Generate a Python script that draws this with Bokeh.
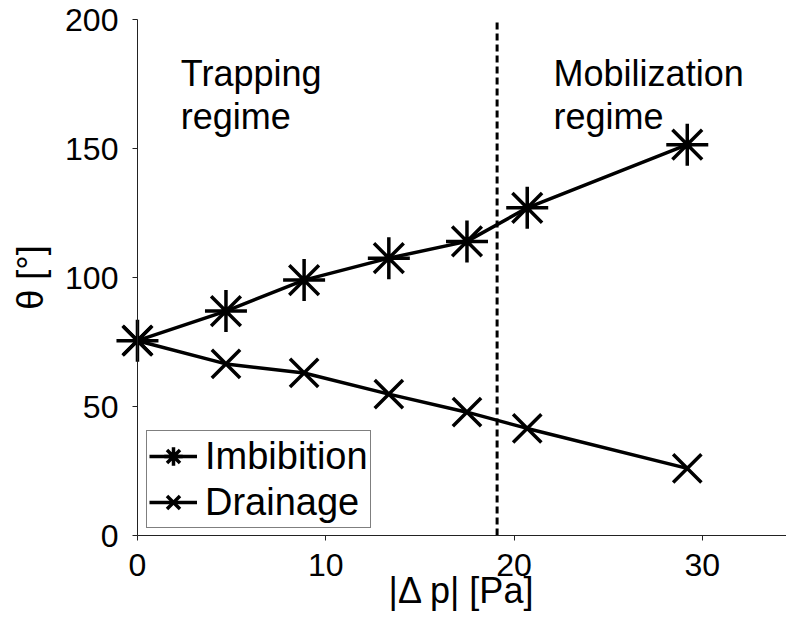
import math
from bokeh.plotting import figure
from bokeh.models import Range1d, Legend, LegendItem, ColumnDataSource, FixedTicker, Label
from bokeh.core.properties import value
from bokeh.embed import file_html
from bokeh.resources import INLINE

# data
dp = [0.0, 4.7, 8.85, 13.35, 17.5, 20.7, 29.2]
imbibition = [75.5, 87.0, 99.0, 107.5, 114.0, 127.0, 151.5]
drainage = [75.5, 66.5, 63.0, 54.8, 47.8, 41.5, 26.0]
regime_boundary = 19.1
x_ticks = [0, 10, 20, 30]
y_ticks = [0, 50, 100, 150, 200]
y_min, y_max = 0, 200
x_min, x_max = 0, 34.47
region_labels = ["Trapping\nregime", "Mobilization\nregime"]
region_x = [2.3, 22.1]
region_y = [187.0, 187.0]
x_title = "|\u0394 p| [Pa]"
y_title = "\u03b8 [\u00b0]"

FONT = "Liberation Sans"

# the frame spans the whole window so that markers at x=0 and the tick labels are not clipped;
# the axes are fixed at the data origin
px_per_x = 565 / 30.0
px_per_y = 516 / 200.0
p = figure(width=786, height=629, output_backend="svg", toolbar_location=None,
           x_range=Range1d(x_min - 137 / px_per_x, x_max),
           y_range=Range1d(y_min - 94 / px_per_y, y_max + 19 / px_per_y),
           min_border_left=0, min_border_right=0, min_border_top=0, min_border_bottom=0)
p.xgrid.visible = False
p.ygrid.visible = False
p.outline_line_color = None
p.background_fill_color = "white"
p.border_fill_color = "white"

for ax in (p.xaxis[0], p.yaxis[0]):
    ax.axis_line_color = "#222222"
    ax.axis_line_width = 1
    ax.major_tick_line_color = "#222222"
    ax.major_tick_out = 5
    ax.major_tick_in = 0
    ax.minor_tick_line_color = None
    ax.major_label_text_font = FONT
    ax.major_label_text_font_size = "32px"
    ax.major_label_text_color = "black"

p.yaxis.fixed_location = x_min
p.xaxis.fixed_location = y_min
p.xaxis.bounds = (x_min, x_max)
p.yaxis.bounds = (y_min, y_max)
p.xaxis.ticker = FixedTicker(ticks=x_ticks)
p.yaxis.ticker = FixedTicker(ticks=y_ticks)
p.xaxis.major_label_standoff = 13
p.yaxis.major_label_standoff = 14

src = ColumnDataSource(dict(x=dp, imb=imbibition, dr=drainage))

p.segment(x0=[regime_boundary], y0=[y_min], x1=[regime_boundary], y1=[y_max],
          line_color="black", line_width=3, line_dash="7 4")

l1 = p.line("x", "imb", source=src, line_color="black", line_width=3.5)
m1 = p.scatter("x", "imb", source=src, marker="asterisk", size=42,
               line_color="black", line_width=3.5)
l2 = p.line("x", "dr", source=src, line_color="black", line_width=3.5)
m2 = p.scatter("x", "dr", source=src, marker="x", size=40,
               line_color="black", line_width=3.5)

tsrc = ColumnDataSource(dict(x=region_x, y=region_y, t=region_labels))
p.text("x", "y", text="t", source=tsrc, text_font=value(FONT), text_font_size="36px",
       text_color="black", text_align="left", text_baseline="top", text_line_height=1.05)

# axis titles
p.add_layout(Label(x=(x_min + x_max) / 2, y=39, y_units="screen", text=x_title,
                   text_font=FONT, text_font_size="36px", text_color="black",
                   text_align="center", text_baseline="middle"))
p.add_layout(Label(x=30, x_units="screen", y=(y_min + y_max) / 2, text=y_title,
                   angle=math.pi / 2, text_font=FONT, text_font_size="36px",
                   text_color="black", text_align="center", text_baseline="middle"))

legend = Legend(items=[LegendItem(label="Imbibition", renderers=[l1, m1]),
                       LegendItem(label="Drainage", renderers=[l2, m2])],
                location=(146, 101))
legend.border_line_color = "black"
legend.border_line_width = 1
legend.background_fill_color = "white"
legend.background_fill_alpha = 1
legend.label_text_font = FONT
legend.label_text_font_size = "38px"
legend.label_text_color = "black"
legend.glyph_width = 48
legend.glyph_height = 46
legend.label_standoff = 8
legend.label_height = 44
legend.spacing = 0
legend.padding = 2
legend.margin = 0
p.add_layout(legend)

open("out.html", "w").write(file_html(p, INLINE))
